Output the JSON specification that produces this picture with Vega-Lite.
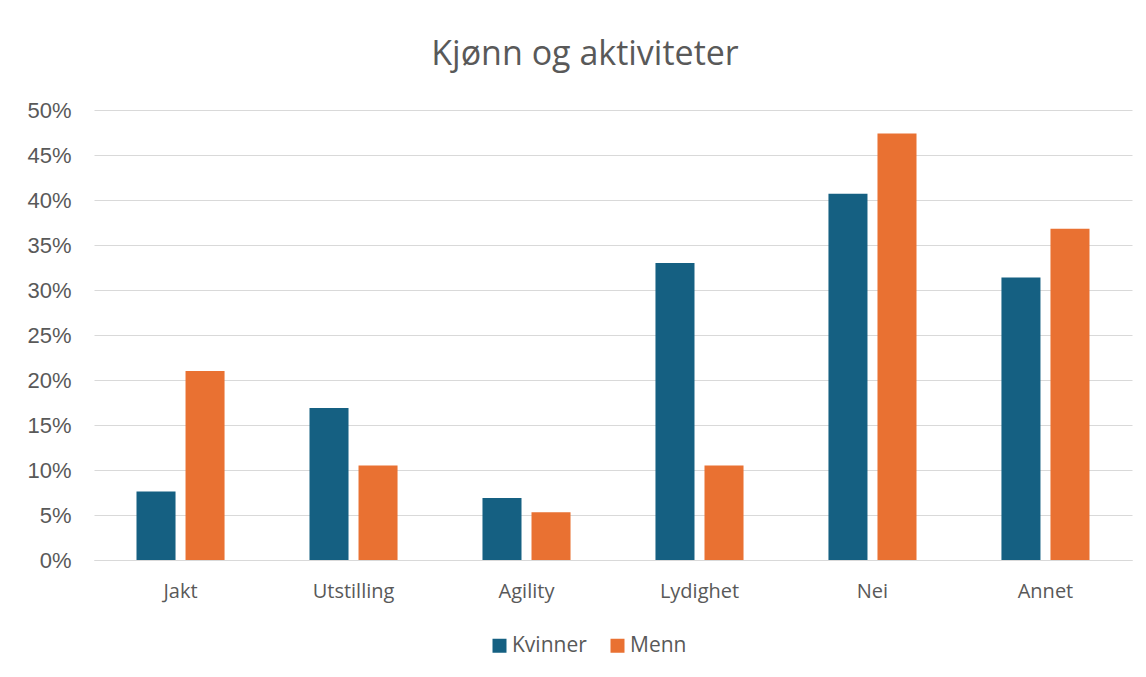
{
  "$schema": "https://vega.github.io/schema/vega-lite/v6.json",
  "width": 1038,
  "height": 450,
  "autosize": {"type": "none"},
  "padding": {"left": 94, "top": 110, "right": 14, "bottom": 117},
  "background": "white",
  "title": {
    "text": "Kjønn og aktiviteter",
    "font": "Open Sans",
    "fontSize": 34,
    "fontWeight": "normal",
    "color": "#595959",
    "anchor": "middle",
    "frame": "group",
    "offset": 27,
    "dx": -28
  },
  "data": {
    "values": [
      {"aktivitet": "Jakt", "kjonn": "Kvinner", "andel": 0.076},
      {"aktivitet": "Jakt", "kjonn": "Menn", "andel": 0.21},
      {"aktivitet": "Utstilling", "kjonn": "Kvinner", "andel": 0.169},
      {"aktivitet": "Utstilling", "kjonn": "Menn", "andel": 0.105},
      {"aktivitet": "Agility", "kjonn": "Kvinner", "andel": 0.069},
      {"aktivitet": "Agility", "kjonn": "Menn", "andel": 0.053},
      {"aktivitet": "Lydighet", "kjonn": "Kvinner", "andel": 0.33},
      {"aktivitet": "Lydighet", "kjonn": "Menn", "andel": 0.105},
      {"aktivitet": "Nei", "kjonn": "Kvinner", "andel": 0.407},
      {"aktivitet": "Nei", "kjonn": "Menn", "andel": 0.474},
      {"aktivitet": "Annet", "kjonn": "Kvinner", "andel": 0.314},
      {"aktivitet": "Annet", "kjonn": "Menn", "andel": 0.368}
    ]
  },
  "mark": {"type": "bar"},
  "encoding": {
    "x": {
      "field": "aktivitet",
      "type": "nominal",
      "sort": ["Jakt", "Utstilling", "Agility", "Lydighet", "Nei", "Annet"],
      "scale": {"paddingInner": 0.491, "paddingOuter": 0.2457},
      "axis": {
        "title": null,
        "labelAngle": 0,
        "ticks": false,
        "domain": true,
        "domainColor": "#d9d9d9",
        "domainWidth": 1,
        "labelFont": "Open Sans",
        "labelFontSize": 20,
        "labelColor": "#595959",
        "labelPadding": 21
      }
    },
    "xOffset": {
      "field": "kjonn",
      "type": "nominal",
      "sort": ["Kvinner", "Menn"],
      "scale": {"paddingInner": 0.204, "paddingOuter": 0}
    },
    "y": {
      "field": "andel",
      "type": "quantitative",
      "scale": {"domain": [0, 0.5], "nice": false},
      "axis": {
        "title": null,
        "format": "0%",
        "values": [0, 0.05, 0.1, 0.15, 0.2, 0.25, 0.3, 0.35, 0.4, 0.45, 0.5],
        "ticks": false,
        "domain": false,
        "grid": true,
        "gridColor": "#d9d9d9",
        "gridWidth": 1,
        "labelFont": "Liberation Sans",
        "labelFontSize": 22,
        "labelColor": "#595959",
        "labelPadding": 23
      }
    },
    "color": {
      "field": "kjonn",
      "type": "nominal",
      "sort": ["Kvinner", "Menn"],
      "scale": {"domain": ["Kvinner", "Menn"], "range": ["#156082", "#E97132"]},
      "legend": {
        "title": null,
        "orient": "none",
        "direction": "horizontal",
        "legendX": 395,
        "legendY": 525,
        "symbolType": "square",
        "symbolSize": 196,
        "symbolStrokeWidth": 0,
        "labelFont": "Open Sans",
        "labelFontSize": 21,
        "labelColor": "#595959",
        "labelOffset": 2,
        "columnPadding": 20,
        "padding": 0
      }
    }
  },
  "config": {
    "view": {"stroke": null}
  }
}
